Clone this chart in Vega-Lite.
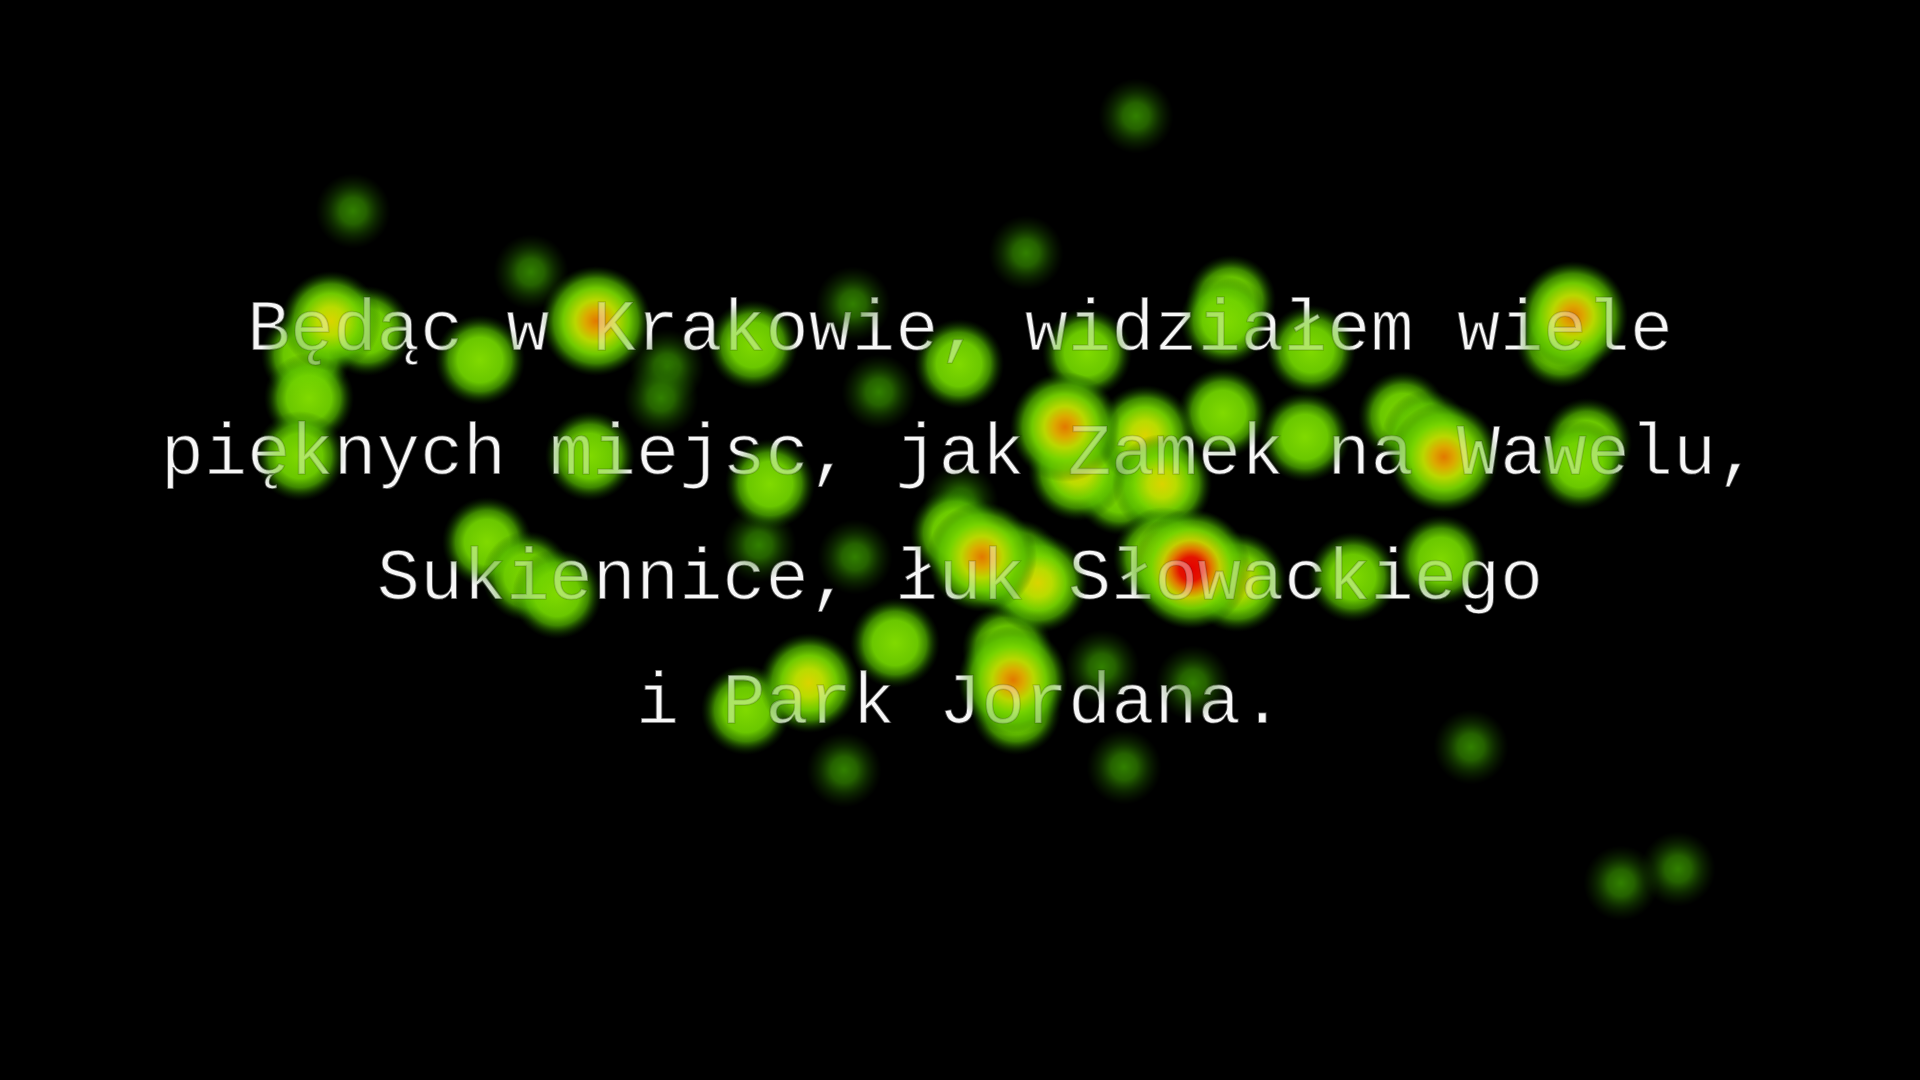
{
  "$schema": "https://vega.github.io/schema/vega-lite/v6.json",
  "width": 1920,
  "height": 1080,
  "padding": 0,
  "autosize": {"type": "fit", "contains": "padding"},
  "background": "#000000",
  "config": {"view": {"stroke": null, "fill": "#000000"}},
  "datasets": {
    "fix": [
      {"x": 1136, "y": 116, "w": 1}, {"x": 353, "y": 211, "w": 1}, {"x": 1026, "y": 253, "w": 1},
      {"x": 531, "y": 272, "w": 1}, {"x": 853, "y": 304, "w": 1},
      {"x": 331, "y": 321, "w": 3}, {"x": 306, "y": 355, "w": 2}, {"x": 367, "y": 331, "w": 2},
      {"x": 309, "y": 398, "w": 2}, {"x": 300, "y": 456, "w": 2}, {"x": 596, "y": 321, "w": 4},
      {"x": 480, "y": 360, "w": 2}, {"x": 667, "y": 367, "w": 1}, {"x": 661, "y": 398, "w": 1},
      {"x": 753, "y": 345, "w": 2}, {"x": 879, "y": 392, "w": 1}, {"x": 959, "y": 364, "w": 2},
      {"x": 1087, "y": 353, "w": 2}, {"x": 1231, "y": 300, "w": 2}, {"x": 1225, "y": 321, "w": 2},
      {"x": 1311, "y": 350, "w": 2}, {"x": 1573, "y": 316, "w": 4}, {"x": 1561, "y": 343, "w": 2},
      {"x": 590, "y": 456, "w": 2}, {"x": 770, "y": 484, "w": 2}, {"x": 1065, "y": 427, "w": 4},
      {"x": 1078, "y": 471, "w": 3}, {"x": 1145, "y": 435, "w": 3}, {"x": 1162, "y": 484, "w": 3},
      {"x": 1120, "y": 490, "w": 2}, {"x": 1223, "y": 413, "w": 2}, {"x": 1305, "y": 437, "w": 2},
      {"x": 1403, "y": 416, "w": 2}, {"x": 1427, "y": 435, "w": 2}, {"x": 1444, "y": 457, "w": 4},
      {"x": 1587, "y": 443, "w": 2}, {"x": 1580, "y": 465, "w": 2}, {"x": 961, "y": 502, "w": 1},
      {"x": 487, "y": 542, "w": 2}, {"x": 527, "y": 576, "w": 2}, {"x": 557, "y": 594, "w": 2},
      {"x": 759, "y": 545, "w": 1}, {"x": 855, "y": 557, "w": 1}, {"x": 955, "y": 533, "w": 2},
      {"x": 982, "y": 557, "w": 4}, {"x": 1016, "y": 569, "w": 3}, {"x": 1038, "y": 583, "w": 3},
      {"x": 1163, "y": 557, "w": 3}, {"x": 1191, "y": 569, "w": 5}, {"x": 1237, "y": 582, "w": 3},
      {"x": 1353, "y": 577, "w": 2}, {"x": 1441, "y": 560, "w": 2},
      {"x": 895, "y": 643, "w": 2}, {"x": 1102, "y": 667, "w": 1}, {"x": 1007, "y": 649, "w": 2},
      {"x": 1013, "y": 680, "w": 4}, {"x": 1016, "y": 710, "w": 2}, {"x": 809, "y": 683, "w": 3},
      {"x": 746, "y": 710, "w": 2}, {"x": 1193, "y": 683, "w": 1}, {"x": 844, "y": 770, "w": 1},
      {"x": 1124, "y": 767, "w": 1}, {"x": 1471, "y": 747, "w": 1}, {"x": 1621, "y": 883, "w": 1},
      {"x": 1678, "y": 869, "w": 1}
    ],
    "lines": [
      {"line": 1, "text": "Będąc w Krakowie, widziałem wiele"},
      {"line": 2, "text": "pięknych miejsc, jak Zamek na Wawelu,"},
      {"line": 3, "text": "Sukiennice, łuk Słowackiego"},
      {"line": 4, "text": "i Park Jordana."}
    ]
  },
  "resolve": {"scale": {"y": "independent"}},
  "layer": [
    {
      "data": {"name": "lines"},
      "mark": {"type": "text", "font": "Courier New, Liberation Mono, monospace", "fontSize": 72, "color": "#f2f2f2", "stroke": "#000000", "strokeWidth": 1.6, "align": "center", "baseline": "alphabetic"},
      "encoding": {
        "x": {"datum": 960, "type": "quantitative", "scale": {"domain": [0, 1920], "nice": false, "zero": false}, "axis": null},
        "y": {"field": "line", "type": "quantitative", "scale": {"domain": [-1.815, 6.871], "reverse": true, "nice": false, "zero": false}, "axis": null},
        "text": {"field": "text"}
      }
    },
    {
      "data": {"name": "fix"},
      "layer": [
        {
          "transform": [{"filter": "datum.w == 1"}],
          "mark": {"type": "point", "shape": "circle", "filled": true, "opacity": 1, "strokeWidth": 0, "size": 5625,
            "fill": {"gradient": "radial", "stops": [
              {"offset": 0, "color": "rgba(52,135,0,0.95)"},
              {"offset": 0.35, "color": "rgba(46,122,0,0.8)"},
              {"offset": 0.65, "color": "rgba(32,95,0,0.4)"},
              {"offset": 1, "color": "rgba(20,60,0,0)"}]}}
        },
        {
          "transform": [{"filter": "datum.w == 2"}],
          "mark": {"type": "point", "shape": "circle", "filled": true, "opacity": 1, "strokeWidth": 0, "size": 8100,
            "fill": {"gradient": "radial", "stops": [
              {"offset": 0, "color": "rgba(128,218,0,1)"},
              {"offset": 0.5, "color": "rgba(112,210,0,0.95)"},
              {"offset": 0.7, "color": "rgba(85,185,0,0.72)"},
              {"offset": 0.86, "color": "rgba(45,125,0,0.32)"},
              {"offset": 1, "color": "rgba(20,70,0,0)"}]}}
        },
        {
          "transform": [{"filter": "datum.w == 3"}],
          "mark": {"type": "point", "shape": "circle", "filled": true, "opacity": 1, "strokeWidth": 0, "size": 10000,
            "fill": {"gradient": "radial", "stops": [
              {"offset": 0, "color": "rgba(218,212,0,1)"},
              {"offset": 0.28, "color": "rgba(185,220,0,1)"},
              {"offset": 0.55, "color": "rgba(118,212,0,0.95)"},
              {"offset": 0.74, "color": "rgba(85,185,0,0.72)"},
              {"offset": 0.88, "color": "rgba(45,125,0,0.32)"},
              {"offset": 1, "color": "rgba(20,70,0,0)"}]}}
        },
        {
          "transform": [{"filter": "datum.w == 4"}],
          "mark": {"type": "point", "shape": "circle", "filled": true, "opacity": 1, "strokeWidth": 0, "size": 12100,
            "fill": {"gradient": "radial", "stops": [
              {"offset": 0, "color": "rgba(226,120,0,1)"},
              {"offset": 0.2, "color": "rgba(220,170,0,1)"},
              {"offset": 0.38, "color": "rgba(185,216,0,1)"},
              {"offset": 0.6, "color": "rgba(118,212,0,0.95)"},
              {"offset": 0.77, "color": "rgba(85,185,0,0.72)"},
              {"offset": 0.9, "color": "rgba(45,125,0,0.32)"},
              {"offset": 1, "color": "rgba(20,70,0,0)"}]}}
        },
        {
          "transform": [{"filter": "datum.w == 5"}],
          "mark": {"type": "point", "shape": "circle", "filled": true, "opacity": 1, "strokeWidth": 0, "size": 14400,
            "fill": {"gradient": "radial", "stops": [
              {"offset": 0, "color": "rgba(228,0,0,1)"},
              {"offset": 0.2, "color": "rgba(228,20,0,1)"},
              {"offset": 0.34, "color": "rgba(226,120,0,1)"},
              {"offset": 0.48, "color": "rgba(195,205,0,1)"},
              {"offset": 0.66, "color": "rgba(118,212,0,0.95)"},
              {"offset": 0.8, "color": "rgba(85,185,0,0.72)"},
              {"offset": 0.92, "color": "rgba(45,125,0,0.32)"},
              {"offset": 1, "color": "rgba(20,70,0,0)"}]}}
        }
      ],
      "encoding": {
        "x": {"field": "x", "type": "quantitative", "scale": {"domain": [0, 1920], "nice": false, "zero": false}, "axis": null},
        "y": {"field": "y", "type": "quantitative", "scale": {"domain": [0, 1080], "reverse": true, "nice": false, "zero": false}, "axis": null}
      }
    },
    {
      "data": {"name": "lines"},
      "mark": {"type": "text", "font": "Courier New, Liberation Mono, monospace", "fontSize": 72, "color": "#ffffff", "fillOpacity": 0.38, "stroke": "#000000", "strokeOpacity": 0.15, "strokeWidth": 1.6, "align": "center", "baseline": "alphabetic"},
      "encoding": {
        "x": {"datum": 960, "type": "quantitative", "scale": {"domain": [0, 1920], "nice": false, "zero": false}, "axis": null},
        "y": {"field": "line", "type": "quantitative", "scale": {"domain": [-1.815, 6.871], "reverse": true, "nice": false, "zero": false}, "axis": null},
        "text": {"field": "text"}
      }
    }
  ]
}
